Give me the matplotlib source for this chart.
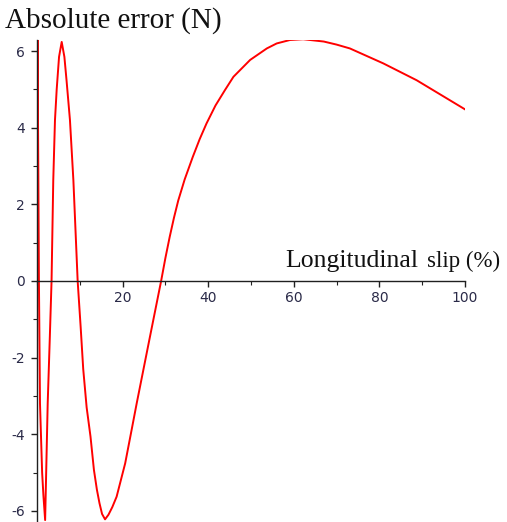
import numpy as np
import matplotlib
matplotlib.use("Agg")
import matplotlib.pyplot as plt
from matplotlib.ticker import MultipleLocator

# values (slip in %, error in N)
slip = [0.0, 0.12, 0.3, 0.45, 0.7, 1.2, 1.5, 1.9, 2.5, 3.0, 3.4, 3.8, 4.2, 4.6,
        5.15, 5.77, 6.4, 6.9, 7.7, 8.5, 9.5, 10.2, 10.8, 11.6, 12.5, 13.3,
        14.0, 14.6, 15.2, 15.9, 16.7, 17.6, 18.6, 20.6, 22.1, 23.3, 26.4,
        29.0, 30.0, 31.0, 32.0, 33.0, 34.5, 36.4, 38.0, 39.6, 41.7, 43.9,
        45.9, 49.8, 53.7, 56.0, 59.1, 62.2, 67.0, 70.0, 73.1, 80.9, 88.7,
        100.0]
error = [3.9, 6.3, 3.0, 0.0, -3.2, -5.0, -5.6, -6.24, -3.19, -1.45, 0.0, 2.63,
         4.2, 5.0, 5.85, 6.24, 5.85, 5.24, 4.2, 2.63, 0.0, -1.2, -2.3, -3.3,
         -4.06, -4.93, -5.45, -5.8, -6.08, -6.22, -6.1, -5.9, -5.63, -4.76,
         -3.89, -3.19, -1.45, 0.0, 0.6, 1.15, 1.65, 2.1, 2.65, 3.24, 3.7,
         4.11, 4.58, 4.98, 5.33, 5.77, 6.07, 6.2, 6.29, 6.31, 6.25, 6.17,
         6.07, 5.68, 5.24, 4.48]

x_ticks = [20, 40, 60, 80, 100]
y_ticks = [-6, -4, -2, 0, 2, 4, 6]

plt.rcParams['axes.unicode_minus'] = False

W, H = 507, 522
fig = plt.figure(figsize=(W / 100, H / 100), dpi=100)
ax = fig.add_axes([37 / W, 0.0, 428 / W, 482 / H])

ax.plot(slip, error, color='#ff0000', lw=1.4, clip_on=True)

ax.set_xlim(0, 100)
ax.set_ylim(-6.29, 6.29)

# Maple style axes crossing at the origin
ax.spines['left'].set_position(('data', 0))
ax.spines['bottom'].set_position(('data', 0))
ax.spines['top'].set_visible(False)
ax.spines['right'].set_visible(False)
for s in ('left', 'bottom'):
    ax.spines[s].set_linewidth(1.0)
    ax.spines[s].set_color('#202020')

ax.set_xticks(x_ticks)
ax.set_yticks(y_ticks)
ax.xaxis.set_minor_locator(MultipleLocator(10))
ax.yaxis.set_minor_locator(MultipleLocator(1))
ax.tick_params(axis='both', which='major', direction='out', length=4,
               width=1.0, color='#202020', labelsize=10, labelcolor='#2a2a48')
ax.tick_params(axis='both', which='minor', direction='out', length=3,
               width=0.8, color='#202020')
ax.tick_params(axis='y', pad=4.5)
ax.tick_params(axis='x', pad=3.5)
ax.patch.set_visible(False)

# axis titles
fig.text(5 / W, 1 - 28 / H, 'Absolute error (N)', family='Liberation Serif',
         fontsize=21, va='baseline', ha='left', color='#111111')
fig.text(285 / W, 1 - 267 / H, 'Longitudinal', family='Liberation Serif',
         fontsize=18.5, va='baseline', ha='left', color='#111111')
fig.text(427 / W, 1 - 267 / H, 'slip (%)', family='Liberation Serif',
         fontsize=16.5, va='baseline', ha='left', color='#111111')

fig.savefig('out.png', dpi=100)
